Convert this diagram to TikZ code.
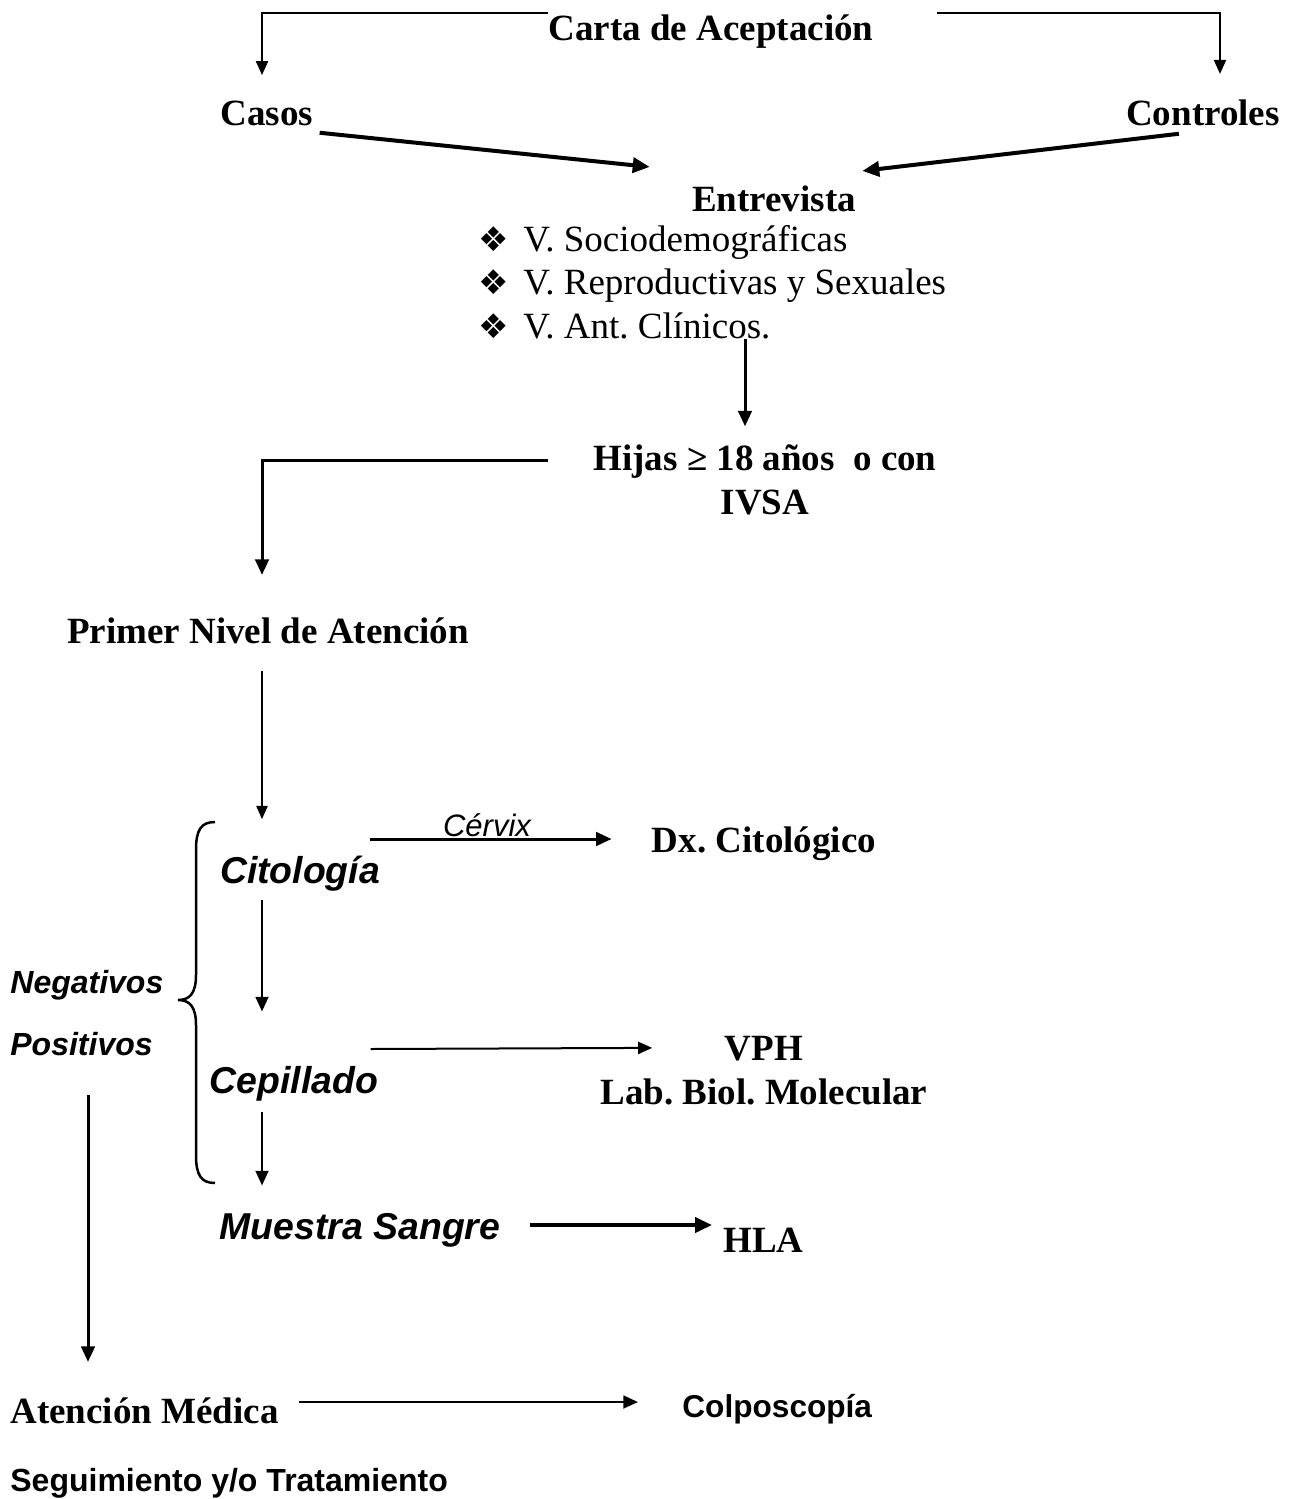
\documentclass[tikz,border=0pt]{standalone}
\usepackage{fontspec}
\setmainfont{Liberation Serif}
\newfontfamily\arialfont{Liberation Sans}
\newfontfamily\dejavufont{DejaVu Sans}
\usetikzlibrary{arrows.meta}
\usetikzlibrary{calc}

\newcommand{\bul}{\makebox[22.5pt][l]{\dejavufont\fontsize{17}{17}\selectfont ❖}}

\begin{document}
\frenchspacing
\begin{tikzpicture}[x=0.5pt,y=0.5pt,yscale=-1,xscale=1,
  serifbold/.style={font=\fontsize{18.5}{21.75}\selectfont\bfseries, inner sep=0pt, anchor=base},
  serifplain/.style={font=\fontsize{18.5}{21.75}\selectfont, inner sep=0pt, anchor=base west, align=left},
  sansbi/.style={font=\arialfont\fontsize{18.7}{22}\selectfont\bfseries\itshape, inner sep=0pt, anchor=base},
  sidelabel/.style={font=\arialfont\fontsize{16}{19}\selectfont\bfseries\itshape, inner sep=0pt, anchor=base west},
  sansbold/.style={font=\arialfont\fontsize{15.8}{19}\selectfont\bfseries, inner sep=0pt, anchor=base west},
  conn/.style={-{Triangle[length=5.5pt 1.5,width=4.5pt 1.5]}},
]
\useasboundingbox (0,0) rectangle (1300,1499);

% Text Node
\node [serifbold] (carta) at (711,40) {Carta de Aceptación};
% Text Node
\node [serifbold] (casos) at (267,125) {Casos};
% Text Node
\node [serifbold] (controles) at (1203,125) {Controles};
% Text Node
\node [serifbold] (entrevista) at (774,211) {Entrevista};
% Text Node (base = last line)
\node [serifplain] (vars) at (478,338) {\bul V. Sociodemográficas\\\bul V. Reproductivas y Sexuales\\\bul V. Ant. Clínicos.};
% Text Node (base = last line)
\node [serifbold, align=center] (hijas) at (765,514) {Hijas ≥ 18 años\ \ o con\\IVSA};
% Text Node
\node [serifbold] (primer) at (268,643) {Primer Nivel de Atención};
% Text Node
\node [sansbi] (citologia) at (300,883) {Citología};
% Text Node
\node [font=\arialfont\fontsize{15.5}{18}\selectfont\itshape, inner sep=0pt, anchor=base] (cervix) at (487,836) {Cérvix};
% Text Node
\node [serifbold] (dx) at (764,852) {Dx. Citológico};
% Text Node
\node [sidelabel] (negativos) at (10,993) {Negativos};
% Text Node
\node [sidelabel] (positivos) at (10,1055) {Positivos};
% Text Node
\node [sansbi] (cepillado) at (294,1093) {Cepillado};
% Text Node (base = last line)
\node [serifbold, align=center] (vph) at (764,1104) {VPH\\Lab. Biol. Molecular};
% Text Node
\node [sansbi] (muestra) at (360,1239) {Muestra Sangre};
% Text Node
\node [serifbold, anchor=base west] (hla) at (723,1252) {HLA};
% Text Node
\node [serifbold, anchor=base west] (atencion) at (10,1423) {Atención Médica};
% Text Node
\node [sansbold] (colpo) at (682,1417) {Colposcopía};
% Text Node
\node [sansbold, font=\arialfont\fontsize{16}{19}\selectfont\bfseries] (seguimiento) at (10,1491) {Seguimiento y/o Tratamiento};

% Coordinates
\coordinate (hijasIn) at ($(hijas.north)+(-20,-18)$);
\coordinate (primerOut) at ($(primer.south)+(-6,27)$);
\coordinate (citoIn) at ($(citologia.north)+(-38,-36)$);

% Connection
\draw [conn, line width=1pt] ($(carta.north west)+(0,-1)$) -| ($(casos.north)+(-5,-25)$);
% Connection
\draw [conn, line width=1pt] ($(carta.north east)+(63,-1)$) -| ($(controles.north)+(17,-25)$);
% Connection
\draw [conn, line width=2pt] ($(casos.south east)+(6,7)$) -- ($(entrevista.north west)+(-42,-18)$);
% Connection
\draw [conn, line width=2pt] ($(controles.south west)+(53,8)$) -- ($(entrevista.north east)+(6,-14)$);
% Connection
\draw [conn, line width=1.5pt] (hijasIn |- vars.south) -- (hijasIn);
% Connection
\draw [conn, line width=1.5pt] ($(hijas.base west)+(-45,-54)$) -| ($(primer.north)+(-6,-42)$);
% Connection
\draw [conn, line width=0.75pt] (primerOut) -- (primerOut |- citoIn);
% Connection
\draw [conn, line width=1.5pt] ($(citologia.base east)+(-10,-44)$) -- ($(dx.base west)+(-40,-13)$);
% Connection
\draw [conn, line width=1.25pt] ($(citologia.south)+(-38,9)$) -- ($(cepillado.north)+(-32,-54)$);
% Connection
\draw [conn, line width=1pt] ($(cepillado.base east)+(-8,-44)$) -- ($(vph.north west)+(52,12)$);
% Connection
\draw [conn, line width=1.25pt] ($(cepillado.south)+(-32,11)$) -- ($(muestra.north)+(-98,-27)$);
% Connection
\draw [conn, line width=2pt] ($(muestra.base east)+(29,-14)$) -- ($(hla.base west)+(-11,-27)$);
% Connection
\draw [conn, line width=1.5pt] ($(positivos.base west)+(78,40)$) -- ($(atencion.north west)+(78,-35)$);
% Connection
\draw [conn, line width=1.25pt] ($(atencion.base east)+(20,-21)$) -- ($(colpo.base west)+(-44,-15)$);

% Brace
\draw [line width=1.25pt] (215,822) .. controls (201,822) and (196,830) .. (196,850) -- (196,975) .. controls (196,993) and (190,1000) .. (178,1000) .. controls (190,1000) and (196,1007) .. (196,1025) -- (196,1155) .. controls (196,1175) and (201,1183) .. (215,1183);

\end{tikzpicture}
\end{document}
